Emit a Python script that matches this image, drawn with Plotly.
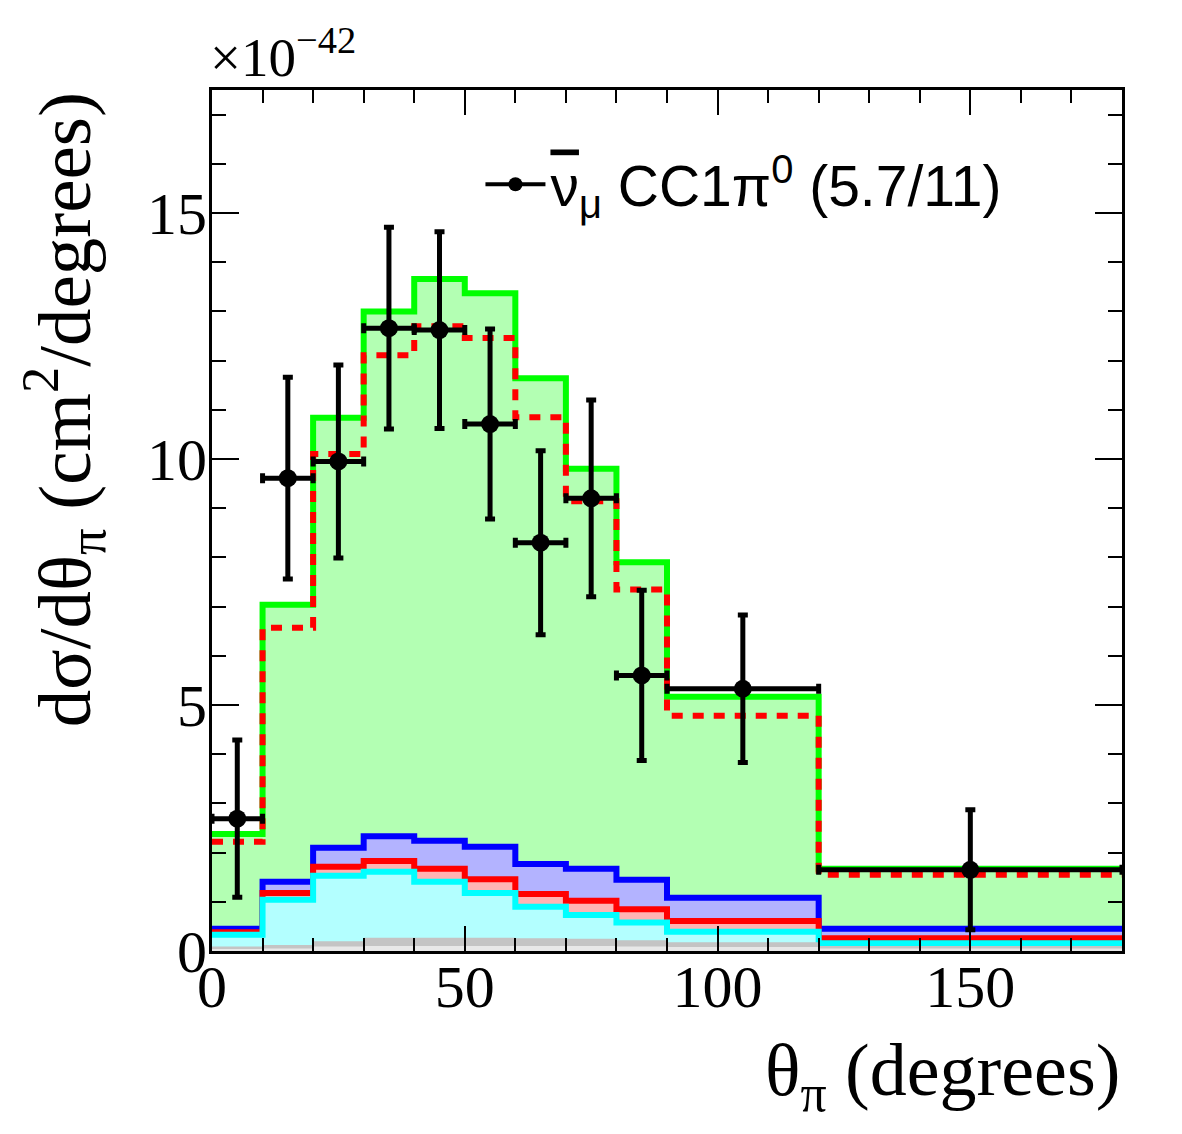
import plotly.graph_objects as go

# ---- data (units of 1e-42 cm^2/degree) ----
bin_edges = [0, 10, 20, 30, 40, 50, 60, 70, 80, 90, 120, 180]
bin_centers = [5, 15, 25, 35, 45, 55, 65, 75, 85, 105, 150]
bin_halfwidths = [5, 5, 5, 5, 5, 5, 5, 5, 5, 15, 30]

data_vals = [2.69, 9.61, 9.95, 12.66, 12.62, 10.71, 8.30, 9.20, 5.60, 5.33, 1.65]
data_errs = [1.60, 2.05, 1.96, 2.05, 2.00, 1.93, 1.87, 2.00, 1.73, 1.50, 1.22]

total_green = [2.38, 7.04, 10.84, 13.00, 13.66, 13.37, 11.64, 9.80, 7.90, 5.17, 1.67]
total_red_dashed = [2.22, 6.57, 10.10, 12.11, 12.70, 12.46, 10.85, 9.14, 7.35, 4.78, 1.55]
comp_blue = [0.45, 1.41, 2.10, 2.33, 2.24, 2.12, 1.77, 1.67, 1.45, 1.08, 0.45]
comp_red = [0.38, 1.18, 1.71, 1.83, 1.67, 1.46, 1.16, 1.02, 0.85, 0.61, 0.26]
comp_cyan = [0.33, 1.04, 1.53, 1.61, 1.41, 1.18, 0.90, 0.73, 0.58, 0.39, 0.16]
comp_gray = [0.09, 0.12, 0.20, 0.27, 0.27, 0.27, 0.26, 0.25, 0.22, 0.18, 0.10]
comp_lightgray = [0.04, 0.05, 0.09, 0.10, 0.10, 0.10, 0.10, 0.10, 0.09, 0.08, 0.05]

legend_label = ("<span style='text-decoration:overline'>\u03bd</span>"
                "<sub>\u03bc</sub> CC1\u03c0<sup>0</sup> (5.7/11)")
x_title = "\u03b8<sub>\u03c0</sub> (degrees)"
y_title = "d\u03c3/d\u03b8<sub>\u03c0</sub> (cm<sup>2</sup>/degrees)"
exp_label = "\u00d710<sup>\u221242</sup>"


def step(vals):
    return vals + [vals[-1]]


fig = go.Figure()


def add_hist(vals, line_color, fill_color, width=6, dash=None, fill=True):
    fig.add_trace(go.Scatter(
        x=bin_edges, y=step(vals), mode="lines", line_shape="hv",
        line=dict(color=line_color, width=width, dash=dash) if line_color else dict(width=0),
        fill="tozeroy" if fill else None,
        fillcolor=fill_color if fill else None,
        showlegend=False, hoverinfo="skip",
    ))


add_hist(total_green, "#00ff00", "#b3ffb3")
add_hist(comp_blue, "#0000ff", "#b3b3ff")
add_hist(comp_red, "#ff0000", "#ffb3b3")
add_hist(comp_cyan, "#00ffff", "#b3ffff")
add_hist(comp_gray, None, "#c4c4c4")
add_hist(comp_lightgray, None, "#e8e8e8")
add_hist(total_red_dashed, "#ff0000", None, dash="11px,10px", fill=False)

fig.add_trace(go.Scatter(
    x=bin_centers, y=data_vals, mode="markers",
    marker=dict(color="black", size=18, symbol="circle"),
    error_y=dict(type="data", array=data_errs, color="black", thickness=5, width=5),
    error_x=dict(type="data", array=bin_halfwidths, color="black", thickness=5, width=5),
    showlegend=False, hoverinfo="skip",
))
fig.add_trace(go.Scatter(
    x=[None], y=[None], mode="lines+markers",
    line=dict(color="black", width=4),
    marker=dict(color="black", size=14),
    name=legend_label, showlegend=True,
))

serif = "Liberation Serif"
axis_common = dict(
    showline=True, linecolor="black", linewidth=3, mirror="allticks",
    ticks="inside", tickcolor="black", tickwidth=2,
    showgrid=False, zeroline=False,
    tickfont=dict(family=serif, size=60, color="black"),
)

fig.update_xaxes(
    range=[0, 180], tickmode="linear", tick0=0, dtick=50, ticklen=25,
    minor=dict(ticks="inside", dtick=10, ticklen=13, tickcolor="black", tickwidth=2),
    ticklabelstandoff=-19,
    **axis_common,
)
fig.update_yaxes(
    range=[0, 17.5], tickmode="linear", tick0=0, dtick=5, ticklen=27,
    minor=dict(ticks="inside", dtick=1, ticklen=14, tickcolor="black", tickwidth=2),
    ticklabelstandoff=-10,
    **axis_common,
)

fig.update_layout(
    width=1182, height=1134,
    margin=dict(l=212, r=60, t=90, b=183),
    plot_bgcolor="white", paper_bgcolor="white",
    showlegend=True,
    legend=dict(
        x=0.295, y=0.89, xanchor="left", yanchor="middle",
        bgcolor="rgba(0,0,0,0)", itemwidth=60,
        font=dict(family="Liberation Sans", size=57, color="black"),
    ),
    annotations=[
        dict(text=x_title, xref="paper", yref="paper", x=1.0, y=-0.145,
             xanchor="right", yanchor="middle", showarrow=False,
             font=dict(family=serif, size=74, color="black")),
        dict(text=y_title, xref="paper", yref="paper", x=-0.163, y=1.0,
             xanchor="center", yanchor="top", textangle=-90, showarrow=False,
             font=dict(family=serif, size=75, color="black")),
        dict(text=exp_label, xref="paper", yref="paper", x=-0.004, y=1.0,
             xanchor="left", yanchor="bottom", showarrow=False,
             font=dict(family=serif, size=55, color="black")),
    ],
)

fig.write_html("out.html")
